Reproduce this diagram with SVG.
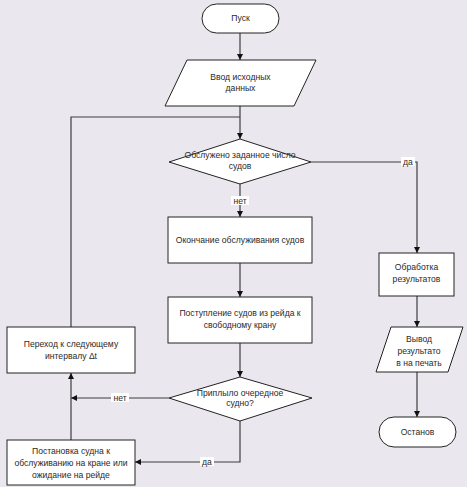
<svg xmlns="http://www.w3.org/2000/svg" width="467" height="487" viewBox="0 0 467 487">
<defs>
<marker id="ah" viewBox="0 0 6 6" refX="6" refY="3" markerWidth="6" markerHeight="6" markerUnits="userSpaceOnUse" orient="auto">
<path d="M0,0 L6,3 L0,6 z" fill="#111"/>
</marker>
</defs>
<style>
.shape{fill:#fff;stroke:#222;stroke-width:1}
.t{font-family:"Liberation Sans",Arial,sans-serif;font-size:8.6px;fill:#2a2a2a;text-anchor:middle}
.c{fill:none;stroke:#3c3c3c;stroke-width:1.2}
.lb{fill:#fff}
</style>
<rect width="467" height="487" fill="#eae8ee"/>
<g id="connectors">
<path class="c" d="M240,33 V60" marker-end="url(#ah)"/>
<path class="c" d="M240,106 V139" marker-end="url(#ah)"/>
<path class="c" d="M71,327 V117 H240"/>
<path class="c" d="M240,184 V217" marker-end="url(#ah)"/>
<path class="c" d="M240,263 V297" marker-end="url(#ah)"/>
<path class="c" d="M240,343 V377" marker-end="url(#ah)"/>
<path class="c" d="M311,162 H417 V253" marker-end="url(#ah)"/>
<path class="c" d="M417,296 V327" marker-end="url(#ah)"/>
<path class="c" d="M417,372 V417" marker-end="url(#ah)"/>
<path class="c" d="M169,398 H71" marker-end="url(#ah)"/>
<path class="c" d="M71,440 V373" marker-end="url(#ah)"/>
<path class="c" d="M240,421 V462 H135" marker-end="url(#ah)"/>
<rect class="lb" x="401" y="157" width="14" height="9"/>
<text class="t" x="408" y="165">да</text>
<rect class="lb" x="231" y="196" width="18" height="9"/>
<text class="t" x="240" y="204">нет</text>
<rect class="lb" x="111" y="393" width="18" height="9"/>
<text class="t" x="120" y="401">нет</text>
<rect class="lb" x="200" y="457" width="14" height="9"/>
<text class="t" x="207" y="465">да</text>
</g>
<g id="start">
<rect class="shape" x="202" y="4" width="77" height="29" rx="14.5"/>
<text class="t" x="240.5" y="21">Пуск</text>
</g>
<g id="input">
<polygon class="shape" points="187,60 316,60 294,106 165,106"/>
<text class="t" x="240.5" y="80">Ввод исходных</text>
<text class="t" x="240.5" y="91">данных</text>
</g>
<g id="decision1">
<polygon class="shape" points="240,139 311,162 240,184 169,162"/>
<text class="t" x="240" y="158">Обслужено заданное число</text>
<text class="t" x="240" y="169">судов</text>
</g>
<g id="end-service">
<rect class="shape" x="168" y="217" width="144" height="46"/>
<text class="t" x="240" y="243">Окончание обслуживания судов</text>
</g>
<g id="arrival">
<rect class="shape" x="168" y="297" width="144" height="46"/>
<text class="t" x="240" y="316">Поступление судов из рейда к</text>
<text class="t" x="240" y="328">свободному крану</text>
</g>
<g id="decision2">
<polygon class="shape" points="240,377 312,398 240,421 169,398"/>
<text class="t" x="240" y="396">Приплыло очередное</text>
<text class="t" x="240" y="406">судно?</text>
</g>
<g id="next-interval">
<rect class="shape" x="7" y="327" width="128" height="46"/>
<text class="t" x="71" y="347">Переход к следующему</text>
<text class="t" x="71" y="359">интервалу Δt</text>
</g>
<g id="placement">
<rect class="shape" x="7" y="440" width="128" height="45"/>
<text class="t" x="71" y="454">Постановка судна к</text>
<text class="t" x="71" y="466">обслуживанию на кране или</text>
<text class="t" x="71" y="478">ожидание на рейде</text>
</g>
<g id="processing">
<rect class="shape" x="379" y="253" width="75" height="43"/>
<text class="t" x="416.5" y="270">Обработка</text>
<text class="t" x="416.5" y="282">результатов</text>
</g>
<g id="output">
<polygon class="shape" points="391,327 463,327 448,372 376,372"/>
<text class="t" x="419" y="342">Вывод</text>
<text class="t" x="419" y="354">результато</text>
<text class="t" x="419" y="366">в на печать</text>
</g>
<g id="stop">
<rect class="shape" x="379" y="417" width="77" height="30" rx="15"/>
<text class="t" x="417.5" y="435">Останов</text>
</g>
</svg>
